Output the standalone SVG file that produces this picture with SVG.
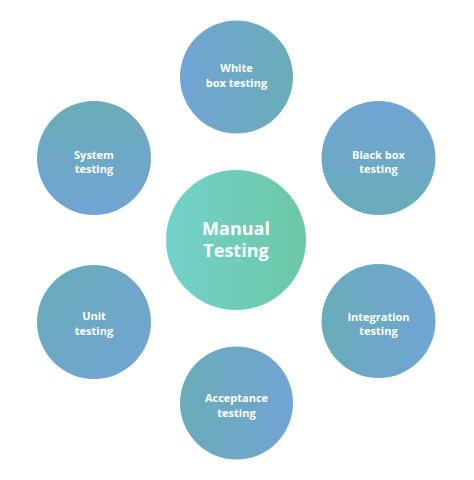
<svg xmlns="http://www.w3.org/2000/svg" width="474" height="480" viewBox="0 0 474 480">
<defs>
<linearGradient id="gc" x1="0" y1="0" x2="1" y2="0"><stop offset="0" stop-color="#74d1ca"/><stop offset="1" stop-color="#6cc7a7"/></linearGradient>
<linearGradient id="gh" x1="0" y1="0" x2="1" y2="0"><stop offset="0" stop-color="#71a4d4"/><stop offset="1" stop-color="#6aacb9"/></linearGradient>
<linearGradient id="ghr" x1="1" y1="0" x2="0" y2="0"><stop offset="0" stop-color="#71a4d4"/><stop offset="1" stop-color="#6aacb9"/></linearGradient>
<linearGradient id="gv" x1="0" y1="0" x2="0" y2="1"><stop offset="0" stop-color="#6aacb9"/><stop offset="1" stop-color="#71a4d4"/></linearGradient>
<linearGradient id="gvr" x1="0" y1="1" x2="0" y2="0"><stop offset="0" stop-color="#6aacb9"/><stop offset="1" stop-color="#71a4d4"/></linearGradient>
<linearGradient id="gd" x1="0" y1="0" x2="1" y2="1"><stop offset="0" stop-color="#6aacb9"/><stop offset="1" stop-color="#71a4d4"/></linearGradient>
</defs>
<style>
.t{font-family:"Open Sans","Liberation Sans",sans-serif;font-weight:700;fill:#fff;text-anchor:middle;font-size:11px}
.c{font-size:18px}
</style>
<rect width="474" height="480" fill="#fff"/>
<g id="connectors"></g>
<g id="white-box"><circle cx="236.5" cy="77" r="56.5" fill="url(#gh)"/><text class="t" x="236.5" y="72">White</text><text class="t" x="236.5" y="87">box testing</text></g>
<g id="system"><circle cx="94" cy="158" r="57" fill="url(#gv)"/><text class="t" x="94" y="159">System</text><text class="t" x="94" y="173">testing</text></g>
<g id="black-box"><circle cx="378.5" cy="158" r="57" fill="url(#gvr)"/><text class="t" x="378.5" y="159">Black box</text><text class="t" x="378.5" y="173">testing</text></g>
<g id="manual"><circle cx="236" cy="240" r="70" fill="url(#gc)"/><text class="t c" x="236" y="235">Manual</text><text class="t c" x="236" y="257">Testing</text></g>
<g id="unit"><circle cx="94" cy="322" r="57" fill="url(#gd)"/><text class="t" x="94" y="320">Unit</text><text class="t" x="94" y="335">testing</text></g>
<g id="integration"><circle cx="378.5" cy="321" r="57" fill="url(#ghr)"/><text class="t" x="378.5" y="321">Integration</text><text class="t" x="378.5" y="335">testing</text></g>
<g id="acceptance"><circle cx="236.5" cy="403" r="56.5" fill="url(#ghr)"/><text class="t" x="236.5" y="402">Acceptance</text><text class="t" x="236.5" y="417">testing</text></g>
</svg>
